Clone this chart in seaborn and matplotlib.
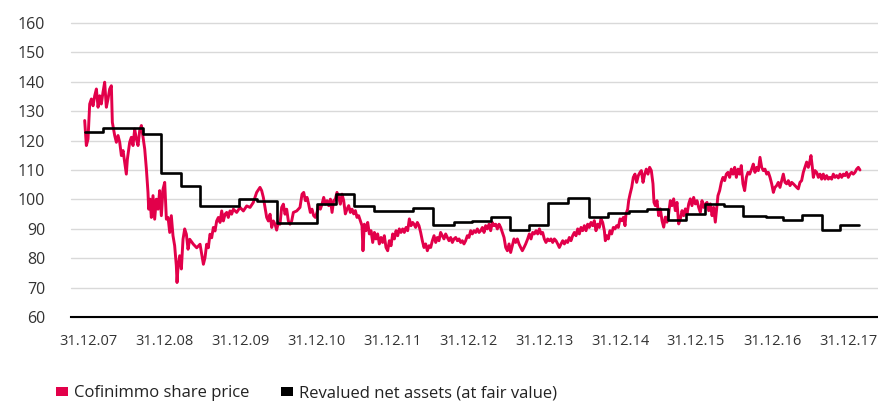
import matplotlib
matplotlib.use("Agg")
import matplotlib.pyplot as plt
from matplotlib.patches import Patch
import pandas as pd
import seaborn as sns

# Cofinimmo share price (EUR), decimal year -> price
price_year = [
    2007.956, 2007.978, 2008.000, 2008.022, 2008.044, 2008.066, 2008.088, 2008.110,
    2008.132, 2008.153, 2008.175, 2008.197, 2008.219, 2008.241, 2008.263, 2008.285,
    2008.307, 2008.320, 2008.351, 2008.373, 2008.395, 2008.417, 2008.439, 2008.461,
    2008.482, 2008.504, 2008.518, 2008.548, 2008.570, 2008.592, 2008.614, 2008.636,
    2008.658, 2008.680, 2008.702, 2008.724, 2008.746, 2008.768, 2008.789, 2008.798,
    2008.816, 2008.833, 2008.855, 2008.877, 2008.899, 2008.921, 2008.943, 2008.965,
    2008.987, 2009.009, 2009.031, 2009.053, 2009.075, 2009.096, 2009.118, 2009.140,
    2009.162, 2009.171, 2009.184, 2009.206, 2009.228, 2009.250, 2009.272, 2009.294,
    2009.316, 2009.338,
    2009.386, 2009.430, 2009.474, 2009.496, 2009.518, 2009.539, 2009.561, 2009.583,
    2009.605, 2009.627, 2009.649, 2009.671, 2009.693, 2009.715, 2009.737, 2009.759,
    2009.781, 2009.803, 2009.825, 2009.846, 2009.868, 2009.890, 2009.912, 2009.956,
    2010.000, 2010.044, 2010.088, 2010.132, 2010.175, 2010.219, 2010.263, 2010.285,
    2010.307, 2010.329, 2010.351, 2010.373, 2010.395, 2010.417, 2010.439, 2010.461,
    2010.482, 2010.504, 2010.526, 2010.548, 2010.570, 2010.592, 2010.614, 2010.636,
    2010.658, 2010.680, 2010.702, 2010.746, 2010.789,
    2010.816, 2010.838, 2010.860, 2010.882, 2010.903, 2010.925, 2010.947, 2010.969,
    2010.991, 2011.013, 2011.035, 2011.057, 2011.079, 2011.101, 2011.123, 2011.145,
    2011.167, 2011.189, 2011.211, 2011.232, 2011.254, 2011.276, 2011.298, 2011.320,
    2011.342, 2011.364, 2011.386, 2011.408, 2011.430, 2011.452, 2011.474, 2011.496,
    2011.518, 2011.539, 2011.561, 2011.583, 2011.605, 2011.618, 2011.636, 2011.658,
    2011.680, 2011.702, 2011.724, 2011.746, 2011.768, 2011.789, 2011.811, 2011.833,
    2011.855, 2011.877, 2011.899, 2011.921, 2011.943, 2011.965, 2011.987, 2012.009,
    2012.031, 2012.053, 2012.075, 2012.096, 2012.118, 2012.140, 2012.162, 2012.184,
    2012.206, 2012.228, 2012.250, 2012.272,
    2012.290, 2012.311, 2012.333, 2012.355, 2012.377, 2012.399, 2012.421, 2012.443,
    2012.465, 2012.487, 2012.509, 2012.531, 2012.553, 2012.575, 2012.596, 2012.618,
    2012.640, 2012.662, 2012.684, 2012.706, 2012.728, 2012.750, 2012.772, 2012.794,
    2012.816, 2012.838, 2012.860, 2012.882, 2012.904, 2012.925, 2012.947, 2012.969,
    2012.991, 2013.013, 2013.035, 2013.057, 2013.079, 2013.101, 2013.123, 2013.145,
    2013.167, 2013.189, 2013.211, 2013.232, 2013.254, 2013.276, 2013.298, 2013.320,
    2013.342, 2013.364, 2013.386, 2013.408, 2013.430, 2013.452, 2013.474, 2013.496,
    2013.518, 2013.540, 2013.561, 2013.583, 2013.605, 2013.627, 2013.649, 2013.671,
    2013.693, 2013.715, 2013.737, 2013.759,
    2013.785, 2013.807, 2013.829, 2013.851, 2013.873, 2013.895, 2013.917, 2013.939,
    2013.961, 2013.982, 2014.004, 2014.026, 2014.048, 2014.070, 2014.092, 2014.114,
    2014.136, 2014.158, 2014.180, 2014.202, 2014.224, 2014.246, 2014.268, 2014.289,
    2014.311, 2014.333, 2014.355, 2014.377, 2014.399, 2014.421, 2014.443, 2014.465,
    2014.487, 2014.509, 2014.531, 2014.553, 2014.575, 2014.596, 2014.618, 2014.640,
    2014.662, 2014.684, 2014.706, 2014.728, 2014.750, 2014.772, 2014.794, 2014.807,
    2014.825, 2014.846, 2014.868, 2014.890, 2014.912, 2014.934, 2014.956, 2014.978,
    2015.000, 2015.022, 2015.044, 2015.066, 2015.079, 2015.101, 2015.114, 2015.132,
    2015.154, 2015.175, 2015.197, 2015.219, 2015.241, 2015.263,
    2015.281, 2015.303, 2015.325, 2015.346, 2015.368, 2015.390, 2015.412, 2015.434,
    2015.447, 2015.465, 2015.487, 2015.509, 2015.531, 2015.553, 2015.575, 2015.596,
    2015.618, 2015.640, 2015.662, 2015.684, 2015.706, 2015.728, 2015.750, 2015.772,
    2015.794, 2015.816, 2015.838, 2015.860, 2015.882, 2015.904, 2015.925, 2015.947,
    2015.969, 2015.991, 2016.013, 2016.035, 2016.057, 2016.079, 2016.101, 2016.123,
    2016.145, 2016.167, 2016.189, 2016.211, 2016.232, 2016.254, 2016.272, 2016.289,
    2016.311, 2016.333, 2016.355, 2016.377, 2016.399, 2016.421, 2016.443, 2016.465,
    2016.487, 2016.509, 2016.531, 2016.553, 2016.575, 2016.596, 2016.618, 2016.640,
    2016.662, 2016.684, 2016.706,
    2016.732, 2016.754, 2016.776, 2016.798, 2016.820, 2016.842, 2016.864, 2016.886,
    2016.908, 2016.930, 2016.952, 2016.974, 2016.996, 2017.018, 2017.039, 2017.061,
    2017.083, 2017.105, 2017.127, 2017.149, 2017.171, 2017.193, 2017.215, 2017.237,
    2017.259, 2017.281, 2017.303, 2017.325, 2017.346, 2017.368, 2017.390, 2017.412,
    2017.434, 2017.456, 2017.478, 2017.500, 2017.513, 2017.531, 2017.544, 2017.566,
    2017.588, 2017.610, 2017.632, 2017.653, 2017.675, 2017.697, 2017.719, 2017.741,
    2017.763, 2017.785, 2017.807, 2017.829, 2017.851, 2017.873, 2017.895, 2017.917,
    2017.939, 2017.961, 2017.982, 2018.004, 2018.026, 2018.048, 2018.070, 2018.092,
    2018.114, 2018.136, 2018.158,
]
price_value = [
    126.8, 118.3, 120.5, 132.4, 134.1, 131.8, 135.2, 137.5,
    131.3, 135.2, 132.4, 136.4, 139.8, 131.3, 134.1, 137.5,
    138.6, 126.2, 121.7, 119.4, 121.7, 119.4, 114.9, 116.6,
    112.6, 108.6, 113.7, 119.4, 121.1, 118.3, 123.9, 120.5,
    118.3, 123.4, 125.1, 121.1, 117.1, 110.3, 102.4, 96.7,
    100.1, 93.9, 101.3, 93.3, 100.1, 96.7, 103.0, 94.5,
    103.5, 105.8, 93.3, 93.9, 88.8, 94.5, 87.7, 84.3,
    77.5, 71.8, 76.9, 80.9, 76.4, 86.5, 90.0, 88.2,
    83.1, 86.5,
    84.8, 83.6, 84.8, 81.4, 78.0, 80.2, 84.8, 83.6,
    88.2, 87.0, 90.5, 89.3, 92.7, 93.9, 92.2, 96.1,
    92.7, 95.0, 95.6, 93.9, 96.1, 95.0, 96.7, 95.6,
    97.3, 96.1, 97.8, 97.3, 99.0, 102.4, 104.1, 103.0,
    100.7, 97.3, 93.9, 92.7, 95.0, 90.5, 92.7, 91.6,
    89.6, 92.2, 91.6, 97.3, 98.4, 95.0, 96.7, 92.7,
    91.6, 92.7, 95.6, 96.1, 97.3,
    101.8, 102.4, 99.6, 100.7, 98.4, 95.6, 96.7, 94.5,
    93.9, 95.6, 97.9, 96.7, 98.4, 100.7, 98.4, 99.6,
    97.9, 100.1, 95.6, 99.6, 100.1, 102.4, 100.7, 98.4,
    101.8, 99.6, 95.1, 96.7, 97.9, 95.6, 96.7, 95.1,
    96.2, 93.9, 94.5, 92.8, 91.1, 82.6, 91.6, 89.4,
    92.2, 88.3, 89.4, 85.4, 88.8, 86.6, 88.3, 84.9,
    87.1, 85.4, 87.7, 83.7, 82.6, 86.0, 84.3, 88.3,
    86.6, 89.4, 87.7, 90.0, 88.8, 90.0, 88.8, 90.5,
    89.4, 93.4, 91.1, 92.2,
    91.6, 90.5, 92.2, 91.1, 88.8, 86.0, 83.7, 84.9,
    82.6, 84.3, 83.7, 86.0, 87.7, 85.4, 87.1, 86.0,
    88.8, 87.7, 86.6, 88.3, 87.1, 86.0, 87.1, 85.4,
    86.6, 87.1, 86.0, 86.6, 85.4, 86.0, 84.9, 86.0,
    87.7, 87.1, 89.4, 88.3, 89.4, 88.8, 90.0, 88.8,
    89.4, 90.5, 88.8, 91.1, 90.0, 91.6, 89.4, 92.2,
    91.1, 91.6, 90.0, 91.6, 90.5, 88.8, 87.1, 83.7,
    82.6, 84.9, 82.0, 84.3, 86.6, 85.4, 86.6, 84.9,
    83.7, 82.6, 83.7, 84.9,
    86.6, 88.3, 86.6, 88.8, 88.3, 89.4, 88.3, 90.0,
    88.3, 88.8, 86.6, 85.4, 86.6, 86.0, 86.6, 85.4,
    86.6, 86.0, 84.9, 83.7, 84.9, 86.0, 84.9, 86.0,
    85.4, 87.1, 86.0, 87.7, 88.8, 87.7, 90.0, 88.3,
    90.5, 89.4, 91.1, 89.4, 91.6, 90.5, 92.2, 91.1,
    92.8, 89.4, 91.6, 90.5, 93.4, 92.2, 89.4, 86.0,
    87.7, 86.6, 89.4, 88.3, 90.5, 90.0, 91.1, 90.5,
    93.4, 92.8, 93.9, 91.1, 95.1, 96.7, 99.6, 101.8,
    104.1, 107.5, 108.6, 105.8, 108.1, 109.2,
    109.8, 105.8, 108.6, 110.3, 108.6, 110.9, 109.8, 105.3,
    99.0, 97.9, 99.6, 94.5, 96.8, 92.8, 90.6, 94.0,
    92.3, 95.1, 99.6, 97.9, 100.2, 96.2, 99.0, 91.7,
    93.4, 96.2, 94.5, 96.8, 95.1, 98.5, 100.2, 97.9,
    100.7, 98.5, 99.6, 97.3, 95.6, 99.6, 97.3, 98.5,
    99.0, 96.2, 98.5, 94.5, 97.3, 92.3, 96.8, 101.3,
    103.0, 105.8, 107.5, 106.4, 108.6, 109.2, 107.5, 110.3,
    108.6, 110.9, 107.5, 110.3, 108.6, 111.5, 105.3, 103.0,
    107.5, 109.2, 108.6,
    110.3, 112.0, 109.2, 110.9, 109.8, 114.3, 110.9, 109.8,
    110.3, 108.6, 109.2, 107.5, 105.3, 102.4, 104.1, 104.7,
    105.8, 104.1, 106.4, 108.6, 105.8, 105.3, 106.4, 104.7,
    105.8, 105.3, 104.7, 104.1, 103.6, 105.8, 106.4, 109.2,
    110.9, 112.7, 110.9, 113.2, 114.9, 110.9, 107.5, 109.8,
    109.2, 107.5, 108.6, 106.9, 108.6, 106.9, 108.1, 106.9,
    107.5, 106.9, 108.6, 107.5, 108.1, 107.3, 108.6, 107.5,
    108.6, 108.1, 109.2, 107.5, 108.6, 109.2, 108.6, 109.2,
    110.3, 110.9, 110.0,
]

# Revalued net assets per share (fair value): publication date -> level
nav_year = [
    2007.961, 2008.197, 2008.717, 2008.954, 2009.224, 2009.474, 2009.991, 2010.224,
    2010.493, 2011.013, 2011.257, 2011.500, 2011.763, 2012.270, 2012.533, 2012.816,
    2013.059, 2013.303, 2013.559, 2013.803, 2014.053, 2014.322, 2014.586, 2014.838,
    2015.112, 2015.351, 2015.632, 2015.868, 2016.125, 2016.362, 2016.625, 2016.921,
    2017.145, 2017.395, 2017.658, 2017.895, 2018.151,
]
nav_value = [
    122.8, 124.3, 122.1, 108.9, 104.7, 97.9, 100.0, 99.5,
    91.9, 98.4, 102.0, 97.9, 96.1, 97.1, 91.5, 92.2,
    92.6, 94.0, 89.8, 91.4, 98.8, 100.5, 94.1, 95.3,
    96.2, 96.8, 93.0, 95.1, 98.3, 97.9, 94.5, 94.0,
    93.0, 94.8, 89.8, 91.4, 91.4,
]

tick_years = list(range(2008, 2019))
tick_labels = ["31.12.07", "31.12.08", "31.12.09", "31.12.10", "31.12.11",
               "31.12.12", "31.12.13", "31.12.14", "31.12.15", "31.12.16",
               "31.12.17"]
y_ticks = list(range(60, 161, 10))
series_labels = ["Cofinimmo share price", "Revalued net assets (at fair value)"]

RED = "#e2004a"
TEXT = "#333333"

sns.set_theme(style="white")
plt.rcParams["font.family"] = ["Open Sans", "DejaVu Sans"]

fig = plt.figure(figsize=(8.79, 4.01), dpi=100)
ax = fig.add_axes([71 / 879, 1 - 317.3 / 401, 808 / 879, 294.6 / 401])

price_df = pd.DataFrame({"year": price_year, "value": price_value})
nav_df = pd.DataFrame({"year": nav_year, "value": nav_value})

sns.lineplot(data=price_df, x="year", y="value", ax=ax, color=RED,
             linewidth=2.1, estimator=None, sort=False, zorder=3)
sns.lineplot(data=nav_df, x="year", y="value", ax=ax, color="black",
             linewidth=1.9, estimator=None, sort=False,
             drawstyle="steps-post", zorder=4)

ax.set_xlim(2007.776, 2018.408)
ax.set_ylim(60, 160)
ax.set_yticks(y_ticks)
ax.set_xticks(tick_years, tick_labels)
ax.set_xlabel("")
ax.set_ylabel("")

ax.grid(axis="y", color="#d9d9d9", linewidth=1.0)
ax.grid(axis="x", visible=False)
for gl in ax.get_ygridlines():
    gl.set_clip_on(False)

for side in ("left", "right", "top"):
    ax.spines[side].set_visible(False)
ax.spines["bottom"].set_color("black")
ax.spines["bottom"].set_linewidth(1.5)
ax.spines["bottom"].set_zorder(5)

ax.tick_params(axis="y", length=0, pad=18.5, labelsize=11.5, labelcolor=TEXT)
ax.tick_params(axis="x", length=0, pad=12, labelsize=10.5, labelcolor=TEXT)

handles = [Patch(facecolor=RED, edgecolor="none"),
           Patch(facecolor="black", edgecolor="none")]
fig.legend(handles, series_labels, loc="lower left",
           bbox_to_anchor=(56 / 879, 0.0), ncol=2, frameon=False,
           fontsize=12, handlelength=0.75, handleheight=0.45,
           handletextpad=0.35, columnspacing=1.85, borderpad=0,
           borderaxespad=0, labelcolor="#222222")

fig.savefig("out.png", dpi=100)
